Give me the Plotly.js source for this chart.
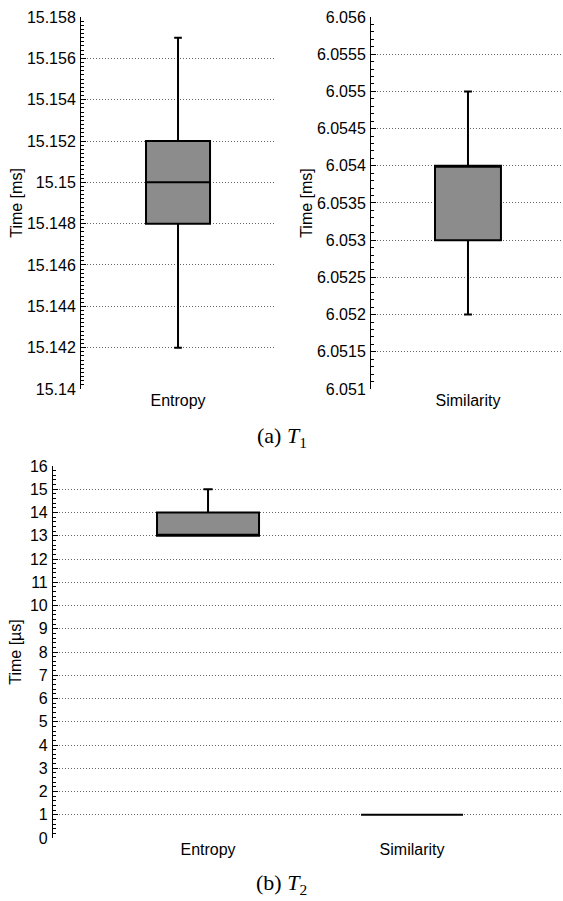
<!DOCTYPE html>
<html>
<head>
<meta charset="utf-8">
<script src="https://cdn.plot.ly/plotly-3.0.1.min.js"></script>
<style>html,body{margin:0;padding:0;background:#fff;overflow:hidden}</style>
</head>
<body>
<div id="chart" style="width:563px;height:901px"></div>
<script>
// T1 (ms)
const t1Categories = ["Entropy", "Similarity"];
const t1Entropy = {q1: 15.148, median: 15.150, q3: 15.152, lower: 15.142, upper: 15.157};
const t1Similarity = {q1: 6.053, median: 6.054, q3: 6.054, lower: 6.052, upper: 6.055};
// T2 (µs)
const t2Categories = ["Entropy", "Similarity"];
const t2Q1 = [13, 1];
const t2Median = [13, 1];
const t2Q3 = [14, 1];
const t2Lower = [13, 1];
const t2Upper = [15, 1];
const captions = ["(a) <i>T</i><sub>1</sub>", "(b) <i>T</i><sub>2</sub>"];

const boxStyle = {
  type: "box", fillcolor: "#8c8c8c", line: {color: "#000", width: 2},
  whiskerwidth: 0.12, boxpoints: false, hoverinfo: "skip", showlegend: false
};

const traces = [
  Object.assign({}, boxStyle, {
    x: [t1Categories[0]], q1: [t1Entropy.q1], median: [t1Entropy.median], q3: [t1Entropy.q3],
    lowerfence: [t1Entropy.lower], upperfence: [t1Entropy.upper], width: 0.33,
    xaxis: "x", yaxis: "y"
  }),
  Object.assign({}, boxStyle, {
    x: [t1Categories[1]], q1: [t1Similarity.q1], median: [t1Similarity.median], q3: [t1Similarity.q3],
    lowerfence: [t1Similarity.lower], upperfence: [t1Similarity.upper], width: 0.34,
    xaxis: "x2", yaxis: "y2"
  }),
  Object.assign({}, boxStyle, {
    x: t2Categories, q1: t2Q1, median: t2Median, q3: t2Q3,
    lowerfence: t2Lower, upperfence: t2Upper, width: 0.5, whiskerwidth: 0.09,
    xaxis: "x3", yaxis: "y3"
  })
];

const font = {family: "Liberation Sans, Arial, sans-serif", size: 16, color: "#000"};
const gridDash = "1px,2px";
function yax(extra) {
  return Object.assign({
    showline: true, linecolor: "#000", linewidth: 1,
    ticks: "inside", ticklen: 5, tickcolor: "#000",
    showgrid: true, gridcolor: "#666", griddash: gridDash, gridwidth: 1,
    zeroline: false, tickfont: font, ticklabelstandoff: 1
  }, extra);
}
function xax(extra) {
  return Object.assign({
    showline: false, showgrid: false, zeroline: false, ticks: "",
    tickfont: font, fixedrange: true
  }, extra);
}
const minorT = {ticks: "inside", ticklen: 3, tickcolor: "#000", showgrid: false};

const layout = {
  width: 563, height: 901,
  margin: {l: 0, r: 0, t: 0, b: 0},
  paper_bgcolor: "#fff", plot_bgcolor: "#fff",
  font: font,
  xaxis: xax({domain: [0.1439, 0.4885], anchor: "y", range: [-0.5, 0.5]}),
  yaxis: yax({domain: [0.5683, 0.9811], anchor: "x", range: [15.14, 15.158], dtick: 0.002, tick0: 15.14,
    minor: Object.assign({dtick: 0.0002}, minorT),
    title: {text: "Time [ms]", font: font, standoff: 0}}),
  yaxis4: {overlaying: "y", side: "right", anchor: "x", range: [15.14, 15.158], dtick: 0.002, tick0: 15.14,
    showline: false, showgrid: false, zeroline: false, showticklabels: false,
    ticks: "inside", ticklen: 5, tickcolor: "#000",
    minor: Object.assign({dtick: 0.0002}, minorT)},
  xaxis2: xax({domain: [0.659, 1], anchor: "y2", range: [-0.5, 0.49]}),
  yaxis2: yax({domain: [0.5683, 0.9811], anchor: "x2", range: [6.051, 6.056], dtick: 0.0005, tick0: 6.051,
    minor: Object.assign({dtick: 0.0001}, minorT),
    title: {text: "Time [ms]", font: font, standoff: 0}}),
  xaxis3: xax({domain: [0.0941, 1], anchor: "y3", range: [-0.76, 1.74]}),
  yaxis3: yax({domain: [0.0699, 0.4828], anchor: "x3", range: [0, 16], dtick: 1, tick0: 0,
    minor: Object.assign({dtick: 0.2}, minorT),
    title: {text: "Time [µs]", font: font, standoff: 4}}),
  annotations: [
    {text: captions[0], xref: "paper", yref: "paper", x: 0.5, y: 1 - 437/901, xanchor: "center", yanchor: "middle",
     showarrow: false, font: {family: "Liberation Serif, Times New Roman, serif", size: 22, color: "#000"}},
    {text: captions[1], xref: "paper", yref: "paper", x: 0.5, y: 1 - 884/901, xanchor: "center", yanchor: "middle",
     showarrow: false, font: {family: "Liberation Serif, Times New Roman, serif", size: 22, color: "#000"}}
  ]
};

Plotly.newPlot("chart", traces, layout, {staticPlot: true, displayModeBar: false});
</script>
</body>
</html>
